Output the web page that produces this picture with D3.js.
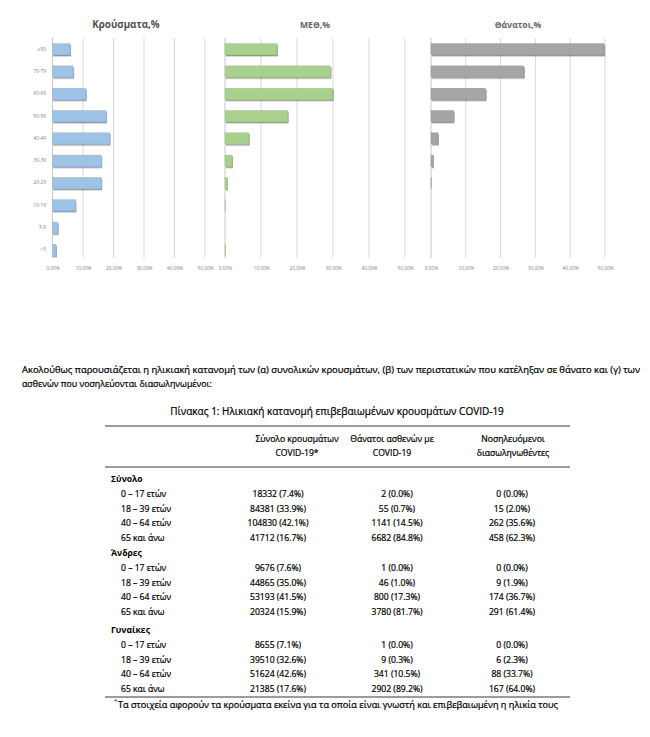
<!DOCTYPE html>
<html><head><meta charset="utf-8">
<script src="https://cdn.jsdelivr.net/npm/d3@7"></script>
<style>body{margin:0;background:#fff}svg{display:block}
.body-text{stroke:#000;stroke-width:0.22px;paint-order:stroke}</style>
</head><body>
<script>
// ---------- chart data ----------
const ageBands = ["≥80","70-79","60-69","50-59","40-49","30-39","20-29","10-19","5-9","<5"];
const casesPct  = [5.7, 6.7, 10.8, 17.5, 18.6, 15.9, 15.9, 7.4, 1.6, 1.1];
const icuPct    = [14.4, 29.2, 29.8, 17.3, 6.5, 1.9, 0.6, 0.1, 0.0, 0.2];
const deathsPct = [49.7, 26.6, 15.6, 6.4, 1.9, 0.7, 0.1, 0.0, 0.0, 0.0];
const xTicks = [0, 10, 20, 30, 40, 50];
const panelTitles = ["Κρούσματα,%", "ΜΕΘ,%", "Θάνατοι,%"];

// ---------- table data ----------
const tableTitle = "Πίνακας 1: Ηλικιακή κατανομή επιβεβαιωμένων κρουσμάτων COVID-19";
const colHeaders = [["Σύνολο κρουσμάτων","COVID-19*"],["Θάνατοι ασθενών με","COVID-19"],["Νοσηλευόμενοι","διασωληνωθέντες"]];
const groups = ["Σύνολο","Άνδρες","Γυναίκες"];
const ageRows = ["0 – 17 ετών","18 – 39 ετών","40 – 64 ετών","65 και άνω"];
const casesCol = [["18332 (7.4%)","84381 (33.9%)","104830 (42.1%)","41712 (16.7%)"],
                  ["9676 (7.6%)","44865 (35.0%)","53193 (41.5%)","20324 (15.9%)"],
                  ["8655 (7.1%)","39510 (32.6%)","51624 (42.6%)","21385 (17.6%)"]];
const deathsCol = [["2 (0.0%)","55 (0.7%)","1141 (14.5%)","6682 (84.8%)"],
                   ["1 (0.0%)","46 (1.0%)","800 (17.3%)","3780 (81.7%)"],
                   ["1 (0.0%)","9 (0.3%)","341 (10.5%)","2902 (89.2%)"]];
const intubCol = [["0 (0.0%)","15 (2.0%)","262 (35.6%)","458 (62.3%)"],
                  ["0 (0.0%)","9 (1.9%)","174 (36.7%)","291 (61.4%)"],
                  ["0 (0.0%)","6 (2.3%)","88 (33.7%)","167 (64.0%)"]];
const introLines = ["Ακολούθως παρουσιάζεται η ηλικιακή κατανομή των (α) συνολικών κρουσμάτων, (β) των περιστατικών που κατέληξαν σε θάνατο και (γ) των",
                    "ασθενών που νοσηλεύονται διασωληνωμένοι:"];
const footnote = "Τα στοιχεία αφορούν τα κρούσματα εκείνα για τα οποία είναι γνωστή και επιβεβαιωμένη η ηλικία τους";

const W = 650, H = 737;
const svg = d3.select("body").append("svg").attr("width", W).attr("height", H);
const FONT = "'Open Sans', 'Noto Sans', sans-serif";

const defs = svg.append("defs");
const f = defs.append("filter").attr("id","shadow").attr("x","-10%").attr("y","-30%").attr("width","130%").attr("height","180%");
f.append("feDropShadow").attr("dx",1).attr("dy",1.4).attr("stdDeviation",0.7).attr("flood-color","#000").attr("flood-opacity",0.45);

const panels = [
  {title: panelTitles[0], values: casesPct,  x0: 52.5, x1: 205, fill: "#9dc3e6", stroke:"#8db3d6", tx:126, tcol:"#505050", tsize:9.8},
  {title: panelTitles[1], values: icuPct,    x0: 225,  x1: 405, fill: "#a9d18e", stroke:"#99c17e", tx:315, tcol:"#666", tsize:8.6},
  {title: panelTitles[2], values: deathsPct, x0: 431,  x1: 605, fill: "#a5a5a5", stroke:"#959595", tx:518, tcol:"#666", tsize:8.6}
];
const y = d3.scaleBand().domain(ageBands).range([38, 261]).paddingInner(0.5).paddingOuter(0.25);

panels.forEach((p, i) => {
  const x = d3.scaleLinear().domain([0, 50]).range([p.x0, p.x1]);
  const g = svg.append("g");
  g.selectAll("line.grid").data(xTicks).join("line")
    .attr("x1", d => x(d)).attr("x2", d => x(d)).attr("y1", 38).attr("y2", 258)
    .attr("stroke", d => d === 0 ? "#c8c8c8" : "#d9d9d9").attr("stroke-width", 1);
  const ax = d3.axisBottom(x).tickValues(xTicks).tickSize(0).tickPadding(0)
    .tickFormat(d => d3.format(".2f")(d).replace(".", ",") + "%");
  const axg = g.append("g").attr("transform", "translate(0,267)").call(ax);
  axg.select(".domain").remove();
  axg.selectAll("text").attr("font-family", FONT).attr("font-size", 4.8).attr("fill", "#7f7f7f");
  g.selectAll("rect.bar").data(p.values).join("rect")
    .attr("x", x(0)).attr("y", (d, j) => y(ageBands[j]))
    .attr("width", d => x(d) - x(0)).attr("height", y.bandwidth())
    .attr("fill", p.fill).attr("stroke", p.stroke).attr("stroke-width", 0.4)
    .attr("filter", "url(#shadow)");
  svg.append("text").attr("x", p.tx).attr("y", 28).attr("text-anchor", "middle")
    .attr("font-family", FONT).attr("font-weight", "bold").attr("font-size", p.tsize)
    .attr("fill", p.tcol).text(p.title);
  if (i === 0) {
    const ya = d3.axisLeft(y).tickSize(0).tickPadding(0);
    const yg = svg.append("g").attr("transform", "translate(46,0)").call(ya);
    yg.select(".domain").remove();
    yg.selectAll("text").attr("font-family", FONT).attr("font-size", 4.8).attr("fill", "#7f7f7f");
  }
});

// ---------- intro text ----------
svg.append("text").attr("class","body-text").attr("x", 22).attr("y", 373).attr("font-family", FONT).attr("font-size", 8.8)
  .attr("fill", "#000").attr("textLength", 618).attr("lengthAdjust", "spacingAndGlyphs").text(introLines[0]);
svg.append("text").attr("class","body-text").attr("x", 22).attr("y", 387).attr("font-family", FONT).attr("font-size", 8.8)
  .attr("fill", "#000").text(introLines[1]);

// ---------- table ----------
svg.append("text").attr("class","body-text").attr("x", 337).attr("y", 415).attr("text-anchor", "middle")
  .attr("font-family", FONT).attr("font-size", 10).attr("fill", "#000").text(tableTitle);

const L = 105, R = 570;
[426, 467, 697].forEach(yy => {
  svg.append("line").attr("x1", L).attr("x2", R).attr("y1", yy).attr("y2", yy).attr("stroke", "#7a7a7a").attr("stroke-width", 1.7);
});

const hdrX = [297, 392, 513];
colHeaders.forEach((h, i) => {
  h.forEach((line, k) => {
    svg.append("text").attr("class","body-text").attr("x", hdrX[i]).attr("y", 442 + k * 14).attr("text-anchor", "middle")
      .attr("font-family", FONT).attr("font-size", 8.6).attr("fill", "#000").text(line);
  });
});

const dataX = [278, 397, 512];
const groupY = [482, 556, 633];
const rowStep = 14.5;
groups.forEach((gname, gi) => {
  svg.append("text").attr("x", 111).attr("y", groupY[gi]).attr("font-family", FONT)
    .attr("font-weight", "bold").attr("font-size", 8.6).attr("fill", "#000").text(gname);
  ageRows.forEach((r, ri) => {
    const yy = groupY[gi] + 15 + ri * rowStep;
    svg.append("text").attr("class","body-text").attr("x", 121).attr("y", yy).attr("font-family", FONT)
      .attr("font-size", 8.6).attr("fill", "#000").text(r);
    [casesCol, deathsCol, intubCol].forEach((col, ci) => {
      svg.append("text").attr("class","body-text").attr("x", dataX[ci]).attr("y", yy).attr("text-anchor", "middle")
        .attr("font-family", FONT).attr("font-size", 8.6).attr("fill", "#000").text(col[gi][ri]);
    });
  });
});

svg.append("text").attr("x", 114).attr("y", 703).attr("font-family", FONT).attr("font-size", 6)
  .attr("fill", "#000").text("*");
svg.append("text").attr("class","body-text").attr("x", 118).attr("y", 708).attr("font-family", FONT).attr("font-size", 8.6)
  .attr("fill", "#000").attr("textLength", 440).attr("lengthAdjust", "spacingAndGlyphs").text(footnote);
</script>
</body></html>
